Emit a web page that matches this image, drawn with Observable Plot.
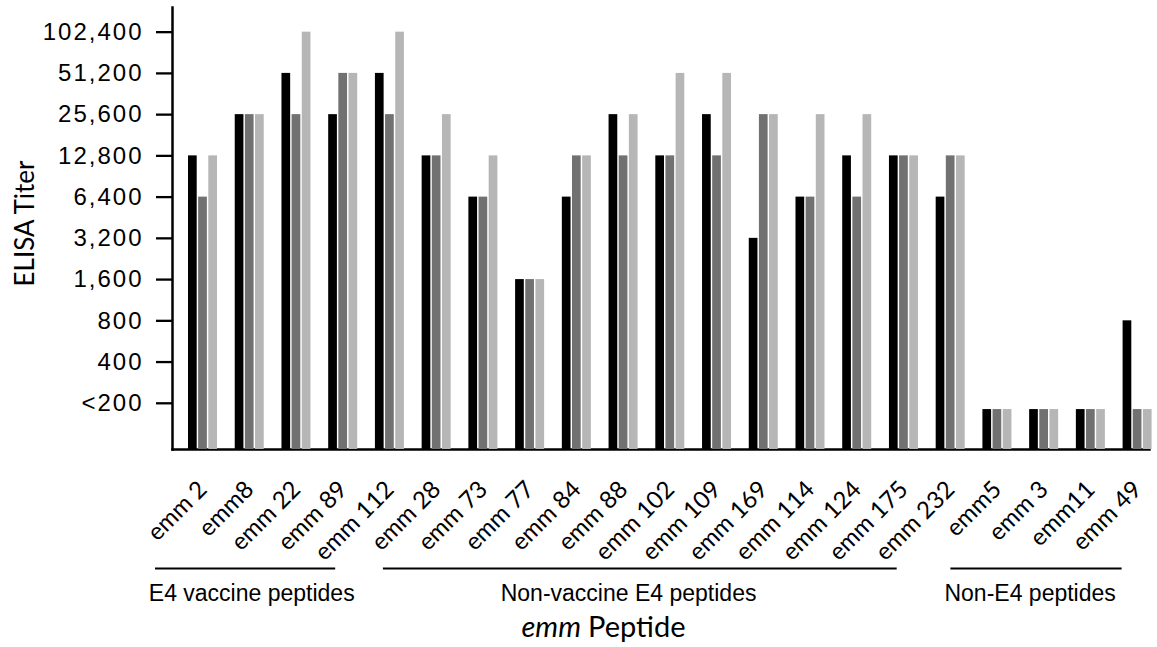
<!DOCTYPE html>
<html>
<head>
<meta charset="utf-8">
<script src="https://cdn.jsdelivr.net/npm/d3@7"></script>
<script src="https://cdn.jsdelivr.net/npm/@observablehq/plot@0.6"></script>
<style>
  html, body { margin: 0; padding: 0; background: #fff; }
  #chart svg { display: block; }
  g[aria-label="y-axis tick label"] text { letter-spacing: 2px; }
  g[aria-label="y title"] text { letter-spacing: 2px; }
</style>
</head>
<body>
<div id="chart"></div>
<script>
// ---------- data ----------
const categories = ["emm 2", "emm8", "emm 22", "emm 89", "emm 112", "emm 28", "emm 73", "emm 77", "emm 84",
  "emm 88", "emm 102", "emm 109", "emm 169", "emm 114", "emm 124", "emm 175", "emm 232",
  "emm5", "emm 3", "emm11", "emm 49"];
// three sera (black, dark grey, light grey bars); "<200" titers drawn just below the 200 line
const seriesBlack = [12800, 25600, 51200, 25600, 51200, 12800, 6400, 1600, 6400,
  25600, 12800, 25600, 3200, 6400, 12800, 12800, 6400, 180, 180, 180, 800];
const seriesDark = [6400, 25600, 25600, 51200, 25600, 12800, 6400, 1600, 12800,
  12800, 12800, 12800, 25600, 6400, 6400, 12800, 12800, 180, 180, 180, 180];
const seriesLight = [12800, 25600, 102400, 51200, 102400, 25600, 12800, 1600, 12800,
  25600, 51200, 51200, 25600, 25600, 25600, 12800, 12800, 180, 180, 180, 180];
const yTicks = [200, 400, 800, 1600, 3200, 6400, 12800, 25600, 51200, 102400];
const yTickLabels = ["<200", "400", "800", "1,600", "3,200", "6,400", "12,800", "25,600", "51,200", "102,400"];
const groupNames = ["E4 vaccine peptides", "Non-vaccine E4 peptides", "Non-E4 peptides"];
const groupFirst = ["emm 2", "emm 112", "emm5"];
const groupLast = ["emm 89", "emm 232", "emm 49"];
const groupLabelAt = ["emm8", "emm 88", "emm 3"];

// ---------- styling ----------
const W = 1157, H = 647;
const yMin = 92, yMax = 155000;
const colors = ["#000000", "#717171", "#b6b6b6"];
const bandW = 29, barW = 8.7, pitch = 10.15;
const slotInsets = [[0, bandW - barW], [pitch, bandW - barW - pitch], [bandW - barW, 0]];
const bracketInsets = [[-33, 22], [8, 68], [-32, 30]];
const labelDx = [2, 5, -14];

const seriesValues = [seriesBlack, seriesDark, seriesLight];
const yLabel = new Map(yTicks.map((v, i) => [v, yTickLabels[i]]));
const groups = groupNames.map((name, i) => ({name, first: groupFirst[i], last: groupLast[i], at: groupLabelAt[i]}));

const marks = [
  Plot.frame({anchor: "left", strokeWidth: 2.5}),
  Plot.frame({anchor: "bottom", strokeWidth: 2.5})
];
seriesValues.forEach((vals, k) => {
  marks.push(Plot.barY(categories.map((c, i) => ({cat: c, v: vals[i]})), {
    x: "cat", y1: () => yMin, y2: "v", fill: colors[k],
    insetLeft: slotInsets[k][0], insetRight: slotInsets[k][1]
  }));
});
marks.push(
  Plot.axisY({ticks: yTicks, tickFormat: d => yLabel.get(d), tickSize: 16, tickPadding: 13,
    strokeWidth: 2.3, fontSize: 24, fontFamily: "Liberation Sans, Arial, sans-serif", label: null}),
  Plot.axisX({tickRotate: -45, tickSize: 0, tickPadding: 36, fontSize: 24,
    fontFamily: "Lato, sans-serif", label: null})
);
groups.forEach((g, k) => {
  marks.push(Plot.ruleY([g], {x1: "first", x2: "last", y: () => yMin, dy: 119, strokeWidth: 2,
    insetLeft: bracketInsets[k][0], insetRight: bracketInsets[k][1]}));
  marks.push(Plot.text([g], {x: "at", y: () => yMin, dy: 144, dx: labelDx[k], text: "name",
    fontSize: 23, fontFamily: "Liberation Sans, Arial, sans-serif"}));
});
marks.push(
  Plot.text(["ELISA Titer"], {text: d => d, frameAnchor: "left", textAnchor: "middle", rotate: -90, dx: -147, dy: -5,
    fontSize: 26, fontFamily: "Lato, sans-serif", ariaLabel: "y title"}),
  Plot.text(["emm"], {text: d => d, frameAnchor: "bottom", textAnchor: "end", dx: -80, dy: 187,
    fontSize: 29, fontStyle: "italic", fontFamily: "Lato, sans-serif"}),
  Plot.text(["Peptide"], {text: d => d, frameAnchor: "bottom", textAnchor: "start", dx: -73, dy: 187,
    fontSize: 29, fontFamily: "Lato, sans-serif"})
);

const chart = Plot.plot({
  width: W, height: H,
  marginLeft: 172, marginRight: 8, marginTop: 7, marginBottom: H - 449,
  style: {background: "#fff", color: "#000", fontFamily: "Liberation Sans, Arial, sans-serif", fontSize: "24px", overflow: "visible"},
  x: {type: "band", domain: categories, range: [188, 1151.6], paddingInner: 1 - bandW / 46.73, paddingOuter: 0, round: false},
  y: {type: "log", base: 2, domain: [yMin, yMax]},
  marks
});
document.getElementById("chart").appendChild(chart);
</script>
</body>
</html>
